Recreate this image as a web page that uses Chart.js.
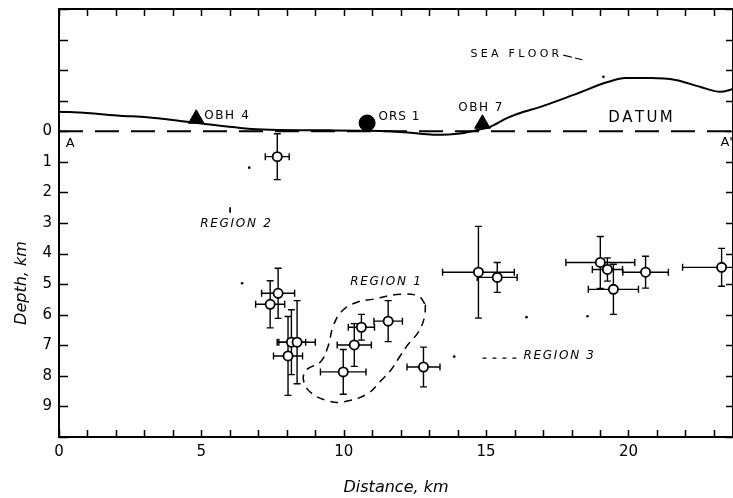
<!DOCTYPE html>
<html><head><meta charset="utf-8">
<script src="https://cdn.jsdelivr.net/npm/chart.js@4"></script>
<style>html,body{margin:0;padding:0;background:#fff;}#wrap{width:733px;height:498px;}</style>
</head><body><div id="wrap"><canvas id="c" width="733" height="498"></canvas></div>
<script>
// ---------- data (km) ----------
const quakeX        = [7.665, 7.695, 7.416, 8.162, 8.361, 8.043, 9.982, 10.37, 10.62, 11.56, 12.80, 14.73, 15.39, 19.01, 19.26, 19.47, 20.60, 23.27];
const quakeDepth    = [0.83, 5.30, 5.66, 6.90, 6.90, 7.35, 7.87, 6.99, 6.41, 6.21, 7.71, 4.61, 4.78, 4.29, 4.52, 5.17, 4.61, 4.45];
const quakeXErr     = [0.42, 0.58, 0.51, 0.50, 0.64, 0.51, 0.80, 0.60, 0.46, 0.50, 0.58, 1.26, 0.70, 1.21, 0.53, 0.88, 0.80, 1.37];
const quakeDepthErr = [0.75, 0.82, 0.77, 1.06, 1.36, 1.29, 0.73, 0.70, 0.42, 0.67, 0.65, 1.50, 0.49, 0.85, 0.38, 0.82, 0.52, 0.62];

const seaFloorX     = [0, 0.98, 2.14, 3.09, 4.25, 5.20, 6.36, 7.42, 9.53, 10.58, 11.63, 12.34, 13.15, 14.09, 14.87, 15.15, 15.75, 16.20, 16.91, 18.07, 19.27, 19.90, 20.77, 21.65, 22.53, 23.23, 23.67];
const seaFloorDepth = [-0.64, -0.60, -0.51, -0.46, -0.34, -0.23, -0.11, -0.05, -0.03, -0.02, 0.0, 0.05, 0.11, 0.07, -0.08, -0.15, -0.44, -0.60, -0.80, -1.19, -1.61, -1.74, -1.74, -1.68, -1.45, -1.29, -1.38];

const datumX        = [0, 23.67];
const datumDepth    = [0, 0];

const obhNames      = ['OBH 4', 'OBH 7'];
const obhX          = [4.82, 14.87];
const obhDepth      = [-0.41, -0.245];
const orsNames      = ['ORS 1'];
const orsX          = [10.82];
const orsDepth      = [-0.27];

const region1X      = [12.87, 12.83, 12.62, 12.27, 11.98, 11.63, 11.29, 10.83, 9.98, 9.45, 8.82, 8.58, 8.72, 9.18, 9.45, 9.63, 9.94, 10.47, 11.04, 11.98, 12.62, 12.87];
const region1Depth  = [5.67, 6.10, 6.57, 6.96, 7.35, 7.84, 8.17, 8.59, 8.85, 8.82, 8.53, 8.10, 7.78, 7.55, 7.03, 6.37, 5.88, 5.59, 5.49, 5.33, 5.39, 5.67];

const region3LeaderX = [14.87, 16.20];
const region3LeaderD = [7.42, 7.42];
const seaLeaderX     = [17.71, 18.38];
const seaLeaderD     = [-2.49, -2.34];
const region2TickX   = [6.01, 6.01];
const region2TickD   = [2.49, 2.66];

const speckX         = [6.68, 6.43, 13.88, 16.42, 18.56, 19.12];
const speckDepth     = [1.19, 4.97, 7.37, 6.08, 6.05, -1.78];

const xTickLabels = ['0', '5', '10', '15', '20'];
const yTickLabels = ['0', '1', '2', '3', '4', '5', '6', '7', '8', '9'];

const labelTexts = ['OBH 4', 'ORS 1', 'OBH 7', 'SEA FLOOR', 'DATUM', 'A', "A'", 'REGION 2', 'REGION 1', 'REGION 3'];
const labelX     = [5.10, 11.22, 14.02, 14.45, 19.29, 0.24, 23.23, 4.96, 10.23, 16.31];
const labelDepth = [-0.49, -0.47, -0.77, -2.53, -0.44, 0.41, 0.38, 3.02, 4.94, 7.35];

const xTitle = 'Distance, km';
const yTitle = 'Depth, km';

// ---------- helpers ----------
const pts = (xs, ys) => xs.map((x, i) => ({x: x, y: ys[i]}));
const FONT = '"DejaVu Sans", sans-serif';
const labelStyle = {
  'OBH 4': {font: '12px ' + FONT, sp: 1.6},
  'ORS 1': {font: '12px ' + FONT, sp: 1.0},
  'OBH 7': {font: '12px ' + FONT, sp: 1.5},
  'SEA FLOOR': {font: '11px ' + FONT, sp: 3.3},
  'DATUM': {font: '15px ' + FONT, sp: 2.4},
  'A': {font: '13px ' + FONT, sp: 0},
  "A'": {font: '13px ' + FONT, sp: 0},
  'REGION 2': {font: 'italic 12px ' + FONT, sp: 1.7},
  'REGION 1': {font: 'italic 12px ' + FONT, sp: 1.7},
  'REGION 3': {font: 'italic 12px ' + FONT, sp: 1.7}
};
function drawSpaced(ctx, text, x, y, sp) {
  let cx = x;
  for (const ch of text) {
    ctx.fillText(ch, cx, y);
    cx += ctx.measureText(ch).width + sp;
  }
}

const deco = {
  id: 'deco',
  beforeDraw(chart) {
    const ctx = chart.ctx;
    ctx.save(); ctx.fillStyle = '#fff'; ctx.fillRect(0, 0, chart.width, chart.height); ctx.restore();
  },
  beforeDatasetsDraw(chart) {
    const ctx = chart.ctx, xs = chart.scales.x, ys = chart.scales.y;
    ctx.save();
    ctx.strokeStyle = '#000'; ctx.lineWidth = 1.4;
    const cap = 3.5;
    quakeX.forEach((x, i) => {
      const d = quakeDepth[i];
      const px = xs.getPixelForValue(x), py = ys.getPixelForValue(d);
      const x0 = xs.getPixelForValue(x - quakeXErr[i]), x1 = xs.getPixelForValue(x + quakeXErr[i]);
      const y0 = ys.getPixelForValue(d - quakeDepthErr[i]), y1 = ys.getPixelForValue(d + quakeDepthErr[i]);
      ctx.beginPath();
      ctx.moveTo(x0, py); ctx.lineTo(x1, py);
      ctx.moveTo(x0, py - cap); ctx.lineTo(x0, py + cap);
      ctx.moveTo(x1, py - cap); ctx.lineTo(x1, py + cap);
      ctx.moveTo(px, y0); ctx.lineTo(px, y1);
      ctx.moveTo(px - cap, y0); ctx.lineTo(px + cap, y0);
      ctx.moveTo(px - cap, y1); ctx.lineTo(px + cap, y1);
      ctx.stroke();
    });
    ctx.restore();
  },
  afterDraw(chart) {
    const ctx = chart.ctx, xs = chart.scales.x, ys = chart.scales.y, a = chart.chartArea;
    ctx.save();
    ctx.strokeStyle = '#000'; ctx.lineWidth = 2;
    ctx.strokeRect(a.left, a.top, a.right - a.left, a.bottom - a.top);
    ctx.lineWidth = 1.5;
    ctx.beginPath();
    for (let v = Math.ceil(xs.min); v <= xs.max; v++) {
      const p = Math.round(xs.getPixelForValue(v)) + 0.5;
      ctx.moveTo(p, a.bottom); ctx.lineTo(p, a.bottom - 7);
      ctx.moveTo(p, a.top); ctx.lineTo(p, a.top + 7);
    }
    for (let v = Math.ceil(ys.min); v <= ys.max; v++) {
      const p = Math.round(ys.getPixelForValue(v)) + 0.5;
      ctx.moveTo(a.left, p); ctx.lineTo(a.left + 9, p);
      ctx.moveTo(a.right, p); ctx.lineTo(a.right - 7, p);
    }
    ctx.stroke();
    // annotations
    ctx.fillStyle = '#000'; ctx.textBaseline = 'middle'; ctx.textAlign = 'left';
    labelTexts.forEach((t, i) => {
      const st = labelStyle[t];
      ctx.font = st.font;
      drawSpaced(ctx, t, xs.getPixelForValue(labelX[i]), ys.getPixelForValue(labelDepth[i]), st.sp);
    });
    // y title
    ctx.font = 'italic 16px ' + FONT;
    ctx.textAlign = 'center';
    ctx.translate(22, 283);
    ctx.rotate(-Math.PI / 2);
    ctx.fillText(yTitle, 0, 0);
    ctx.restore();
  }
};

new Chart(document.getElementById('c'), {
  type: 'scatter',
  data: {
    datasets: [
      {data: pts(datumX, datumDepth), showLine: true, borderColor: '#000', borderWidth: 2, borderDash: [24, 12], pointRadius: 0},
      {data: pts(seaFloorX, seaFloorDepth), showLine: true, borderColor: '#000', borderWidth: 2, pointRadius: 0, cubicInterpolationMode: 'monotone'},
      {data: pts(region1X, region1Depth), showLine: true, borderColor: '#000', borderWidth: 1.5, borderDash: [8, 6], pointRadius: 0, tension: 0.4},
      {data: pts(region3LeaderX, region3LeaderD), showLine: true, borderColor: '#000', borderWidth: 1.2, borderDash: [4, 6], pointRadius: 0},
      {data: pts(seaLeaderX, seaLeaderD), showLine: true, borderColor: '#000', borderWidth: 1.2, borderDash: [9, 3], pointRadius: 0},
      {data: pts(region2TickX, region2TickD), showLine: true, borderColor: '#000', borderWidth: 1, pointRadius: 0},
      {data: pts(speckX, speckDepth), pointRadius: 1.3, pointBackgroundColor: '#000', pointBorderWidth: 0},
      {label: 'OBH', data: pts(obhX, obhDepth), pointStyle: 'triangle', pointRadius: 9, pointBackgroundColor: '#000', pointBorderColor: '#000', pointBorderWidth: 1},
      {label: 'ORS', data: pts(orsX, orsDepth), pointStyle: 'circle', pointRadius: 8, pointBackgroundColor: '#000', pointBorderColor: '#000', pointBorderWidth: 1},
      {label: 'Events', data: pts(quakeX, quakeDepth), pointStyle: 'circle', pointRadius: 4.6, pointBackgroundColor: '#fff', pointBorderColor: '#000', pointBorderWidth: 1.8},
      {data: pts(quakeX, quakeDepth), pointStyle: 'circle', pointRadius: 2.1, pointBackgroundColor: '#000', pointBorderWidth: 0}
    ]
  },
  options: {
    responsive: false,
    animation: false,
    events: [],
    layout: {autoPadding: false, padding: {top: 9, right: 0, left: 0, bottom: 0}},
    plugins: {legend: {display: false}, tooltip: {enabled: false}},
    scales: {
      x: {
        type: 'linear', min: 0, max: 23.67,
        grid: {display: false, drawTicks: false}, border: {display: false},
        ticks: {stepSize: 1, includeBounds: false, autoSkip: false, maxRotation: 0, padding: 6, color: '#000',
          font: {family: 'DejaVu Sans', size: 15},
          callback: v => { const s = String(v); return xTickLabels.includes(s) ? s : ''; }},
        title: {display: true, text: xTitle, color: '#000', font: {family: 'DejaVu Sans', size: 16, style: 'italic'}, padding: {top: 0, bottom: 1}},
        afterFit: s => { s.height = 61; s.paddingLeft = 0; s.paddingRight = 0; }
      },
      y: {
        type: 'linear', min: -4, max: 10, reverse: true,
        grid: {display: false, drawTicks: false}, border: {display: false},
        ticks: {stepSize: 1, includeBounds: false, autoSkip: false, padding: 7, color: '#000',
          font: {family: 'DejaVu Sans', size: 15},
          callback: v => { const s = String(v); return yTickLabels.includes(s) ? s : ''; }},
        afterFit: s => { s.width = 59; s.paddingTop = 0; s.paddingBottom = 0; }
      }
    }
  },
  plugins: [deco]
});
</script>
</body></html>
